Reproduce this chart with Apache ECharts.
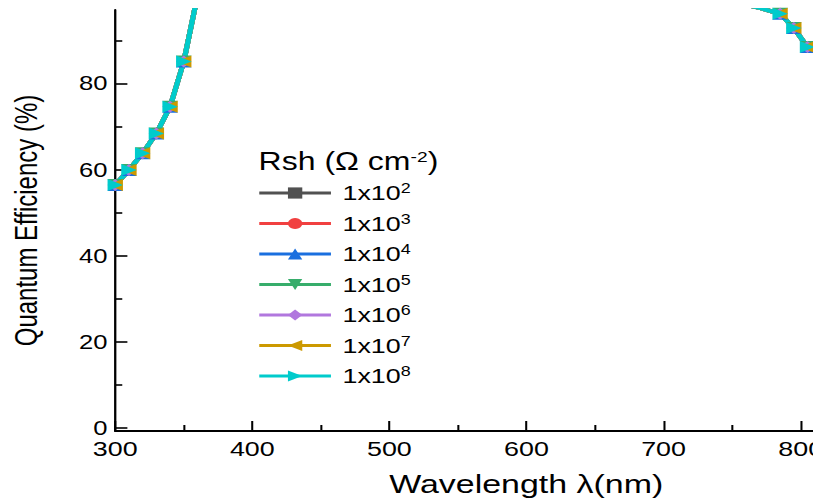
<!DOCTYPE html>
<html>
<head>
<meta charset="utf-8">
<script src="https://cdn.jsdelivr.net/npm/echarts@6/dist/echarts.min.js"></script>
<style>
html, body { margin: 0; padding: 0; background: #fff; overflow: hidden; }
/* the source figure is stretched sideways, so the chart is drawn narrower and widened */
#main { width: 635px; height: 499px; transform: scaleX(1.2803); transform-origin: 0 0; }
</style>
</head>
<body>
<div id="main"></div>
<script>
// wavelength (nm)
var wavelengths = [300, 310, 320, 330, 340, 350, 360, 370, 380, 390,
    400, 410, 420, 430, 440, 450, 460, 470, 480, 490,
    500, 510, 520, 530, 540, 550, 560, 570, 580, 590,
    600, 610, 620, 630, 640, 650, 660, 670, 680, 690,
    700, 710, 720, 730, 740, 750, 760, 770, 785, 795, 805];
// quantum efficiency (%), the seven Rsh curves lie on top of each other
var qe = [56.4, 59.9, 63.8, 68.4, 74.6, 85.1, 100.4, 100.9, 101.2, 101.0,
    100.7, 100.6, 100.4, 100.5, 100.3, 100.1, 100.2, 99.9, 99.8, 99.8,
    99.7, 99.6, 99.6, 99.5, 99.4, 99.4, 99.3, 99.3, 99.2, 99.1,
    99.1, 99.0, 99.0, 98.9, 98.9, 98.8, 98.8, 98.7, 98.7, 98.6,
    98.6, 98.6, 98.5, 98.5, 98.5, 98.4, 98.3, 97.6, 96.2, 92.9, 88.5];
var rshNames = ['1x10^2', '1x10^3', '1x10^4', '1x10^5', '1x10^6', '1x10^7', '1x10^8'];
var xTicks = [300, 400, 500, 600, 700, 800];
var xMinorTicks = [350, 450, 550, 650, 750];
var yTicks = [0, 20, 40, 60, 80];
var yMinorTicks = [10, 30, 50, 70, 90];

var font = "'Liberation Sans', Arial, sans-serif";
var colors = ['#515151', '#F14040', '#1A6FDF', '#37AD6B', '#B177DE', '#CC9900', '#00CBCC'];
var symbols = ['rect', 'circle', 'triangle', 'triangle', 'diamond', 'triangle', 'triangle'];
var rotations = [0, 0, 0, 180, 0, 90, -90];
var sizes = [9, 10, 12, 12, 12, 12, 12];

var points = wavelengths.map(function(w, i) { return [w, qe[i]]; });

var series = rshNames.map(function(name, i) {
    return {
        name: name,
        type: 'line',
        data: points,
        xAxisIndex: 0,
        yAxisIndex: 0,
        symbol: symbols[i],
        symbolRotate: rotations[i],
        symbolSize: sizes[i],
        showSymbol: true,
        clip: true,
        lineStyle: { color: colors[i], width: 4 },
        itemStyle: { color: colors[i] }
    };
});

var myChart = echarts.init(document.getElementById('main'), null, { renderer: 'svg' });
var option = {
    animation: false,
    backgroundColor: '#fff',
    title: {
        text: 'Rsh (Ω cm{sup|-2})',
        left: 202,
        top: 149,
        padding: 0,
        textStyle: {
            fontSize: 25,
            fontWeight: 'normal',
            color: '#000',
            fontFamily: font,
            rich: {
                sup: { fontSize: 15, color: '#000', fontFamily: font, padding: [0, 0, 10, 0] }
            }
        }
    },
    legend: {
        orient: 'vertical',
        left: 201,
        top: 181,
        padding: 0,
        itemWidth: 56,
        itemHeight: 14,
        itemGap: 6.5,
        data: rshNames,
        lineStyle: { width: 3 },
        formatter: function(name) {
            return name.replace(/\^(\d+)/, '{sup|$1}');
        },
        textStyle: {
            fontSize: 21,
            color: '#000',
            fontFamily: font,
            lineHeight: 24,
            padding: [0, 0, 0, 4],
            rich: {
                sup: { fontSize: 14, color: '#000', fontFamily: font, padding: [0, 0, 10, 0] }
            }
        }
    },
    grid: {
        left: 90,
        right: 0,
        top: 10,
        bottom: 68,
        containLabel: false,
        outerBoundsMode: 'none'
    },
    xAxis: [{
        type: 'value',
        min: 300,
        max: 809,
        axisLine: { onZero: false, lineStyle: { color: '#000', width: 2 } },
        axisTick: { inside: true, length: 10, customValues: xTicks, lineStyle: { color: '#000', width: 1.6 } },
        axisLabel: { customValues: xTicks, margin: 7, fontSize: 21, color: '#000', fontFamily: font },
        splitLine: { show: false },
        name: 'Wavelength λ(nm)',
        nameLocation: 'middle',
        nameGap: 39,
        nameTextStyle: { fontSize: 26.5, color: '#000', fontFamily: font, padding: [0, 0, 0, 97] }
    }, {
        type: 'value', //minor ticks
        min: 300,
        max: 809,
        position: 'bottom',
        axisLine: { show: false, onZero: false },
        axisTick: { inside: true, length: 6, customValues: xMinorTicks, lineStyle: { color: '#000', width: 1.6 } },
        axisLabel: { show: false },
        splitLine: { show: false }
    }],
    yAxis: [{
        type: 'value',
        min: -0.8,
        max: 97.1,
        position: 'left',
        axisLine: { show: true, onZero: false, lineStyle: { color: '#000', width: 1.8 } },
        axisTick: { inside: true, length: 9.5, customValues: yTicks, lineStyle: { color: '#000', width: 1.6 } },
        axisLabel: { customValues: yTicks, margin: 6, fontSize: 20, color: '#000', fontFamily: font },
        splitLine: { show: false },
        name: 'Quantum Efficiency (%)',
        nameLocation: 'middle',
        nameGap: 57,
        nameTextStyle: { fontSize: 24, color: '#000', fontFamily: font }
    }, {
        type: 'value', //minor ticks
        min: -0.8,
        max: 97.1,
        position: 'left',
        axisLine: { show: false, onZero: false },
        axisTick: { inside: true, length: 5.5, customValues: yMinorTicks, lineStyle: { color: '#000', width: 1.6 } },
        axisLabel: { show: false },
        splitLine: { show: false }
    }],
    series: series
};
myChart.setOption(option, true);
</script>
</body>
</html>
